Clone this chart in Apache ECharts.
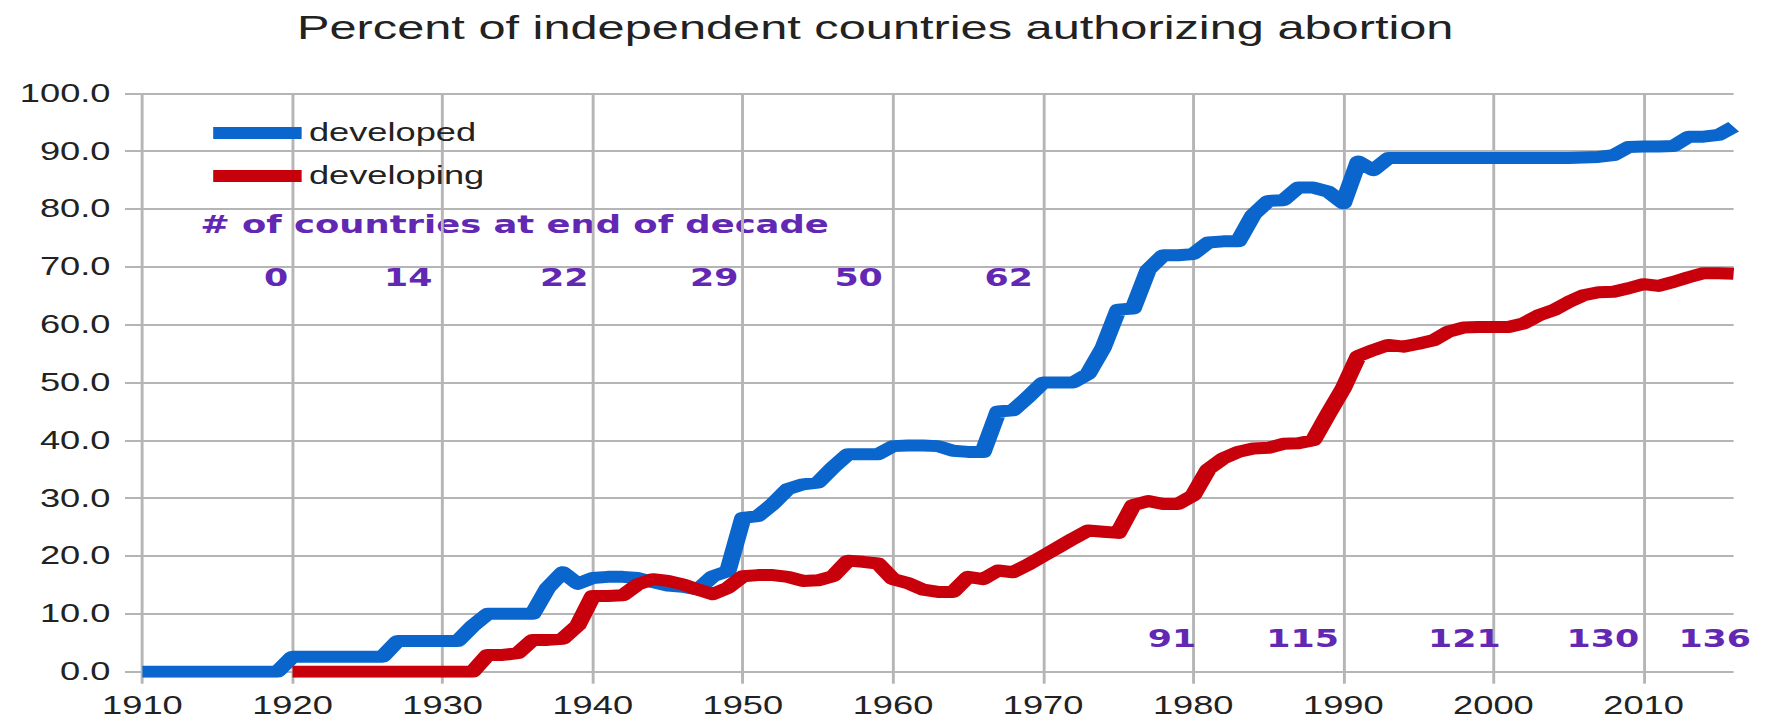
<!DOCTYPE html>
<html>
<head>
<meta charset="utf-8">
<script src="https://cdn.jsdelivr.net/npm/echarts@6/dist/echarts.min.js"></script>
<style>
  html, body { margin: 0; padding: 0; background: #ffffff; overflow: hidden; }
  #wrap { width: 1778px; height: 722px; overflow: hidden; }
  #chart { width: 1226px; height: 722px; transform: scaleX(1.45024); transform-origin: 0 0; }
</style>
</head>
<body>
<div id="wrap"><div id="chart"></div></div>
<script>
// ---- data ----
const years = [];
for (let y = 1910; y <= 2016; y++) years.push(y);

const developed = [
  0, 0, 0, 0, 0, 0, 0, 0, 0, 0,                         // 1910-1919
  2.6, 2.6, 2.6, 2.6, 2.6, 2.6, 2.6, 5.3, 5.3, 5.3,     // 1920-1929
  5.3, 5.3, 7.9, 10.0, 10.0, 10.0, 10.0, 14.5, 17.2, 15.2, // 1930-1939
  16.2, 16.4, 16.4, 16.2, 15.5, 14.9, 14.7, 14.2, 16.5, 17.4, // 1940-1949
  26.6, 26.9, 29.0, 31.6, 32.4, 32.7, 35.3, 37.6, 37.6, 37.6, // 1950-1959
  39.0, 39.1, 39.1, 39.0, 38.2, 38.0, 38.0, 45.0, 45.2, 47.5, // 1960-1969
  50.0, 50.0, 50.0, 51.5, 56.0, 62.6, 62.8, 69.5, 72.0, 72.0, // 1970-1979
  72.2, 74.2, 74.4, 74.4, 79.0, 81.4, 81.5, 83.7, 83.7, 83.0, // 1980-1989
  81.0, 88.2, 86.7, 88.8, 88.8, 88.8, 88.8, 88.8, 88.8, 88.8, // 1990-1999
  88.8, 88.8, 88.8, 88.8, 88.8, 88.8, 88.9, 89.0, 89.3, 90.7, // 2000-2009
  90.8, 90.8, 90.9, 92.5, 92.5, 92.8, 94.2                  // 2010-2016
];

const developing = [
  null, null, null, null, null, null, null, null, null, null, // 1910-1919
  0, 0, 0, 0, 0, 0, 0, 0, 0, 0,                              // 1920-1929
  0, 0, 0, 2.9, 2.9, 3.2, 5.5, 5.5, 5.7, 8.0,                // 1930-1939
  13.1, 13.1, 13.2, 15.1, 16.0, 15.7, 15.1, 14.2, 13.4, 14.5, // 1940-1949
  16.5, 16.7, 16.7, 16.4, 15.7, 15.8, 16.5, 19.2, 19.0, 18.7, // 1950-1959
  16.0, 15.3, 14.2, 13.8, 13.8, 16.4, 16.0, 17.5, 17.2, 18.5, // 1960-1969
  20.0, 21.5, 23.0, 24.4, 24.2, 24.0, 28.8, 29.5, 29.0, 29.0, // 1970-1979
  30.5, 35.0, 36.9, 38.0, 38.6, 38.7, 39.4, 39.5, 40.0, 44.6, // 1980-1989
  49.0, 54.6, 55.6, 56.5, 56.2, 56.7, 57.3, 58.8, 59.5, 59.6, // 1990-1999
  59.6, 59.6, 60.2, 61.6, 62.5, 63.9, 65.1, 65.6, 65.7, 66.3, // 2000-2009
  67.0, 66.7, 67.4, 68.2, 68.9, 68.9, 68.8                    // 2010-2016
];

// number of countries at the end of each decade
const decadeEnds = [1920, 1930, 1940, 1950, 1960, 1970, 1980, 1990, 2000, 2010, 2016];
const countryCounts = [0, 14, 22, 29, 50, 62, 91, 115, 121, 130, 136];

const xTickLabels = [1910, 1920, 1930, 1940, 1950, 1960, 1970, 1980, 1990, 2000, 2010];

const titleText = 'Percent of independent countries authorizing abortion';
const noteText = '# of countries at end of decade';

// ---- chart ----
const gridColor = '#b5b5b5';
const purple = '#6228b4';
const textColor = '#222222';

const pairs = (vals) => years.map((y, i) => [y, vals[i]]);

const labelShift = [0, -4, 0, 0, -4, -4, 5, 0, 8, 0, 15];
const countData = decadeEnds.map((d, i) => ({
  value: [d, i < 6 ? 68.1 : 5.8, countryCounts[i]],
  label: { offset: [labelShift[i], 0] }
}));

const chart = echarts.init(document.getElementById('chart'), null, { renderer: 'svg' });

chart.setOption({
  animation: false,
  backgroundColor: '#ffffff',
  title: {
    text: titleText,
    left: 204.8,
    top: 10,
    padding: 0,
    textStyle: { fontFamily: 'Liberation Sans', fontSize: 33.6, fontWeight: 'normal', color: textColor }
  },
  legend: {
    data: ['developed', 'developing'],
    orient: 'vertical',
    left: 147,
    top: 120,
    padding: 0,
    itemGap: 17,
    icon: 'rect',
    itemWidth: 61,
    itemHeight: 12,
    textStyle: { fontFamily: 'Liberation Sans', fontSize: 25, lineHeight: 26, color: textColor }
  },
  grid: { left: 98.2, right: 30.6, top: 93.3, bottom: 50.3, containLabel: false },
  xAxis: {
    type: 'value',
    min: 1910,
    max: 2016,
    interval: 10,
    axisLine: { show: false },
    axisTick: { show: true, length: 12, customValues: xTickLabels, lineStyle: { color: gridColor, width: 2 } },
    axisLabel: {
      customValues: xTickLabels,
      margin: 21,
      fontFamily: 'Liberation Sans',
      fontSize: 25,
      color: textColor,
      formatter: (v) => String(v)
    },
    splitLine: { show: true, lineStyle: { color: gridColor, width: 2 } }
  },
  yAxis: {
    type: 'value',
    min: 0,
    max: 100,
    interval: 10,
    axisLine: { show: false },
    axisTick: { show: true, length: 12, lineStyle: { color: gridColor, width: 2 } },
    axisLabel: {
      margin: 22,
      fontFamily: 'Liberation Sans',
      fontSize: 25,
      color: textColor,
      formatter: (v) => v.toFixed(1)
    },
    splitLine: { show: true, lineStyle: { color: gridColor, width: 2 } }
  },
  graphic: [{
    type: 'text',
    left: 138,
    top: 213,
    silent: true,
    style: {
      text: noteText,
      fill: purple,
      font: 'bold 24.4px "DejaVu Sans"'
    }
  }],
  series: [
    {
      name: 'developed',
      type: 'line',
      data: pairs(developed),
      showSymbol: false,
      symbol: 'none',
      color: '#0a66cc',
      lineStyle: { width: 12, color: '#0a66cc', join: 'round', cap: 'butt' },
      z: 3
    },
    {
      name: 'developing',
      type: 'line',
      data: pairs(developing),
      showSymbol: false,
      symbol: 'none',
      connectNulls: false,
      color: '#c8000b',
      lineStyle: { width: 12, color: '#c8000b', join: 'round', cap: 'butt' },
      z: 4
    },
    {
      name: 'counts',
      type: 'scatter',
      data: countData,
      symbolSize: 0,
      silent: true,
      clip: false,
      z: 5,
      itemStyle: { opacity: 1 },
      label: {
        show: true,
        position: 'left',
        distance: 3,
        formatter: (p) => String(p.value[2]),
        fontFamily: 'DejaVu Sans',
        fontWeight: 'bold',
        fontSize: 24,
        color: purple,
        opacity: 1
      }
    }
  ]
});
</script>
</body>
</html>
